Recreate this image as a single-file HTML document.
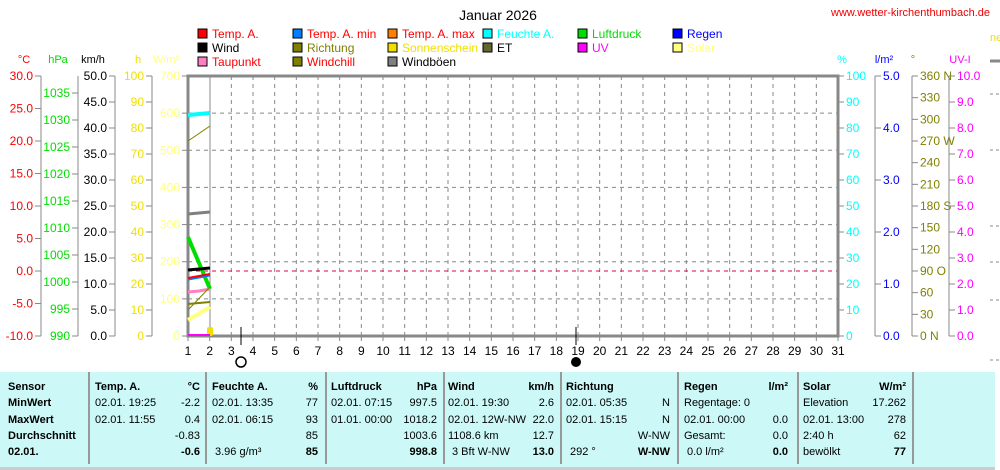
<!DOCTYPE html>
<html><head><meta charset="utf-8"><style>
body{margin:0;background:#fff;width:1000px;height:470px;overflow:hidden;font-family:"Liberation Sans",sans-serif}
svg text{font-family:"Liberation Sans",sans-serif;font-size:11px}
#tbl{position:absolute;left:0;top:372px;width:995px;height:95px;background:#ccf8f8;font-size:11px}
.c{position:absolute;top:0;height:92px;border-right:2px solid #999}
.r{position:absolute;white-space:nowrap}
b{font-weight:bold}
</style></head><body>
<svg id="s" width="1000" height="372" style="position:absolute;left:0;top:0"></svg>
<div id="tbl"></div>
<div style="position:absolute;left:0;top:467px;width:995px;height:3px;background:#ccc"></div>
<script>
var s=document.getElementById('s'),h='';
function t(x,y,str,c,a,extra){h+='<text x="'+x+'" y="'+y+'" fill="'+c+'" text-anchor="'+(a||'start')+'" '+(extra||'')+'>'+str+'</text>';}
function l(x1,y1,x2,y2,c,w,d){h+='<line x1="'+x1+'" y1="'+y1+'" x2="'+x2+'" y2="'+y2+'" stroke="'+c+'" stroke-width="'+(w||1)+'"'+(d?' stroke-dasharray="'+d+'"':'')+'/>';}
t(498,20,'Januar 2026','#000','middle','style="font-size:14px"');
t(990,16,'www.wetter-kirchenthumbach.de','#e00','end','style="font-size:11px"');
var L=[[198,38,'#f00','Temp. A.','#f00'],[293,38,'#0080ff','Temp. A. min','#f00'],[388,38,'#ff8000','Temp. A. max','#f00'],[483,38,'#0ff','Feuchte A.','#0ff'],[578,38,'#0d0','Luftdruck','#0d0'],[673,38,'#00f','Regen','#00f'],
[198,52,'#000','Wind','#000'],[293,52,'#808000','Richtung','#808000'],[388,52,'#f0e000','Sonnenschein','#f0e000'],[483,52,'#666633','ET','#000'],[578,52,'#f0f','UV','#f0f'],[673,52,'#ffff80','Solar','#ffff80'],
[198,66,'#ff80c0','Taupunkt','#f00'],[293,66,'#808000','Windchill','#f00'],[388,66,'#808080','Windböen','#000']];
L.forEach(function(e){h+='<rect x="'+e[0]+'" y="'+(e[1]-9)+'" width="9" height="9" fill="'+e[2]+'" stroke="#000"/>';t(e[0]+14,e[1],e[3],e[4],'start','style="font-size:12px"');});
for(var i=1;i<7;i++){var y=336-i*260/7;l(188,y,838,y,'#888',1,'4,4');}
for(var d=3;d<=30;d++){var x=188+(d-1)*650/30;l(x,76,x,336,'#888',1,'4,4');}
l(210,76,210,336,'#888',1);
l(188,271,838,271,'#e00050',1,'4,4');
h+='<rect x="188" y="76" width="650" height="260" fill="none" stroke="#888" stroke-width="3"/>';
for(var d=1;d<=31;d++){var x=188+(d-1)*650/30;l(x,336,x,341,'#888');t(x,355,d,'#000','middle','style="font-size:12px"');}
function ax(lx,ticks,col,fmt,side){l(lx,76,lx,336,'#888');ticks.forEach(function(k){var y=k[0];l(side>0?lx:lx-6,y,side>0?lx+6:lx,y,'#888');t(side>0?lx+8:lx-8,y+4,k[1],col,side>0?'start':'end','style="font-size:12px"');});}
function mk(n,top,bot,f){var a=[];for(var i=0;i<n;i++)a.push([top+(bot-top)*i/(n-1),f(i)]);return a;}
ax(41,mk(9,76,336,function(i){return (30-5*i).toFixed(1)}),'#f00',0,-1);
var hp=[];for(var i=0;i<10;i++)hp.push([93+27*i,1035-5*i]);ax(78,hp,'#0d0',0,-1);
ax(115,mk(11,76,336,function(i){return (50-5*i).toFixed(1)}),'#000',0,-1);
ax(152,mk(11,76,336,function(i){return 100-10*i}),'#f0e000',0,-1);
ax(188,mk(8,76,336,function(i){return 700-100*i}),'#ffff80',0,-1);
t(24,63,'°C','#f00','middle');t(58,63,'hPa','#0d0','middle');t(93,63,'km/h','#000','middle');t(138,63,'h','#f0e000','middle');t(166,63,'W/m²','#ffff80','middle');
ax(838,mk(11,76,336,function(i){return 100-10*i}),'#0ff',0,1);
ax(875,mk(6,76,336,function(i){return (5-i).toFixed(1)}),'#00f',0,1);
var dl=['360 N','330','300','270 W','240','210','180 S','150','120','90  O','60','30','0   N'];
ax(912,mk(13,76,336,function(i){return dl[i]}),'#808000',0,1);
ax(949,mk(11,76,336,function(i){return (10-i).toFixed(1)}),'#f0f',0,1);
t(842,63,'%','#0ff','middle');t(884,63,'l/m²','#00f','middle');t(913,63,'°','#808000','middle');t(960,63,'UV-I','#f0f','middle');
t(990,41,'ne','#f0e000');l(990,61,1000,61,'#888',3);
[94,150,226,262,360,300].forEach(function(y){l(990,y,1000,y,'#888',1,'3,3');});
l(990,383,1000,383,'#e00050',1,'3,3');
function p(pts,c,w){h+='<polyline points="'+pts+'" fill="none" stroke="'+c+'" stroke-width="'+w+'"/>';}
p('188,115 199,114 210,113','#0ff',4);
p('188,141 210,126','#808000',1);
p('188,214 199,213 210,212','#808080',3);
p('188,237 210,289','#0d0',4);
p('188,270 199,269 210,268','#000',3);
p('188,279 199,277 210,275','#0080ff',3);
p('188,278 199,276 210,274','#f00',2);
p('188,292 199,291 210,289','#ff80c0',3);
p('188,310 210,287','#808000',1);
p('188,304 210,302','#808000',2);
p('188,320 210,307','#ffff80',4);
h+='<rect x="207" y="327" width="6" height="9" fill="#f0e000" rx="2"/>';
l(188,335,210,335,'#f0f',2);
l(241,327,241,345,'#000');l(576,327,576,345,'#000');
h+='<circle cx="241" cy="362" r="5" fill="none" stroke="#000" stroke-width="1.5"/><circle cx="576" cy="362" r="5" fill="#000"/>';
s.innerHTML=h;
var T=document.getElementById('tbl'),g='';
[88,205,325,443,560,677,797,912].forEach(function(x){g+='<div class="c" style="left:'+x+'px;width:0"></div>';});
function c(x,row,str,right,bold){g+='<div class="r" style="'+(right?'right:'+(995-x)+'px':'left:'+x+'px')+';top:'+(9+row*16.3)+'px">'+(bold?'<b>'+str+'</b>':str)+'</div>';}
['Sensor','MinWert','MaxWert','Durchschnitt','02.01.'].forEach(function(v,i){c(8,i,v,0,1);});
c(95,0,'Temp. A.',0,1);c(200,0,'°C',1,1);c(95,1,'02.01.  19:25');c(200,1,'-2.2',1);c(95,2,'02.01.  11:55');c(200,2,'0.4',1);c(200,3,'-0.83',1);c(200,4,'-0.6',1,1);
c(212,0,'Feuchte A.',0,1);c(318,0,'%',1,1);c(212,1,'02.01.  13:35');c(318,1,'77',1);c(212,2,'02.01.  06:15');c(318,2,'93',1);c(318,3,'85',1);c(215,4,'3.96 g/m³');c(318,4,'85',1,1);
c(331,0,'Luftdruck',0,1);c(437,0,'hPa',1,1);c(331,1,'02.01.  07:15');c(437,1,'997.5',1);c(331,2,'01.01.  00:00');c(437,2,'1018.2',1);c(437,3,'1003.6',1);c(437,4,'998.8',1,1);
c(448,0,'Wind',0,1);c(554,0,'km/h',1,1);c(448,1,'02.01.  19:30');c(554,1,'2.6',1);c(448,2,'02.01.  12W-NW');c(554,2,'22.0',1);c(448,3,'1108.6 km');c(554,3,'12.7',1);c(452,4,'3 Bft W-NW');c(554,4,'13.0',1,1);
c(566,0,'Richtung',0,1);c(566,1,'02.01.  05:35');c(670,1,'N',1);c(566,2,'02.01.  15:15');c(670,2,'N',1);c(670,3,'W-NW',1);c(570,4,'292 °');c(670,4,'W-NW',1,1);
c(684,0,'Regen',0,1);c(788,0,'l/m²',1,1);c(684,1,'Regentage: 0');c(684,2,'02.01.  00:00');c(788,2,'0.0',1);c(684,3,'Gesamt:');c(788,3,'0.0',1);c(687,4,'0.0 l/m²');c(788,4,'0.0',1,1);
c(803,0,'Solar',0,1);c(906,0,'W/m²',1,1);c(803,1,'Elevation');c(906,1,'17.262',1);c(803,2,'02.01.  13:00');c(906,2,'278',1);c(803,3,'2:40 h');c(906,3,'62',1);c(803,4,'bewölkt');c(906,4,'77',1,1);
T.innerHTML=g;
</script>
</body></html>
